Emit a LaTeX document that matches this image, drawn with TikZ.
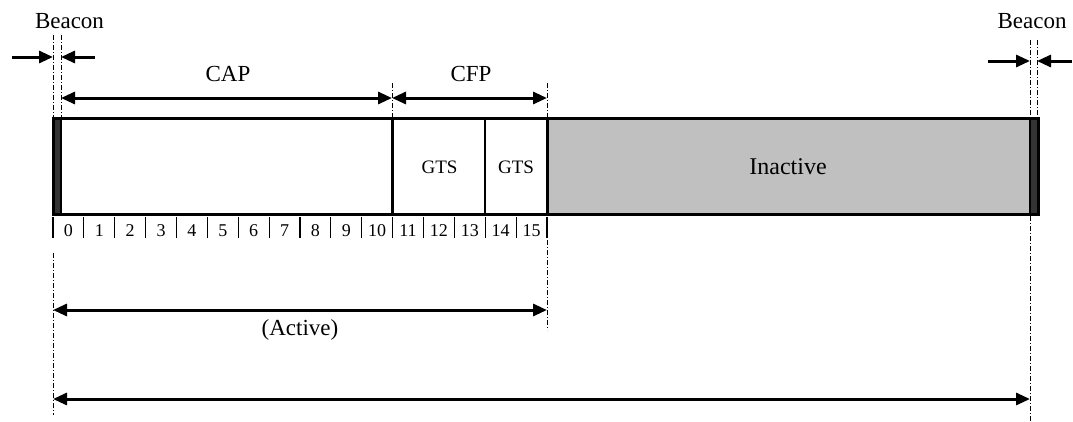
\documentclass[tikz,border=0pt]{standalone}
\usepackage{fontspec}
\setmainfont{Liberation Serif}
\usetikzlibrary{arrows.meta}
\definecolor{inact}{RGB}{192,192,192}
\definecolor{bar}{RGB}{51,51,51}
\tikzset{
  arr/.style={line width=3pt,-{Triangle[length=14pt,width=12pt]}},
  darr/.style={line width=3pt,{Triangle[length=14pt,width=12pt]}-{Triangle[length=14pt,width=12pt]}},
  guide/.style={line width=1pt,dash pattern=on 5pt off 2pt on 1pt off 2pt},
  lbl/.style={inner sep=0pt,anchor=base,font=\fontsize{23}{25}\selectfont},
  gts/.style={inner sep=0pt,anchor=base,font=\fontsize{19}{21}\selectfont},
  num/.style={inner sep=0pt,anchor=base,font=\fontsize{18}{20}\selectfont},
  tick/.style={line width=1.2pt}
}
\begin{document}
\begin{tikzpicture}[x=1pt,y=-1pt]
\useasboundingbox (0,0) rectangle (1073,421);
\fill[white] (0,0) rectangle (1073,421);

% superframe box
\fill[inact] (547,118) rectangle (1030,214);
\fill[bar] (53,118) rectangle (61,214);
\fill[bar] (1030,118) rectangle (1038,214);
\draw[line width=3pt] (53,118) rectangle (1038,214);
\draw[line width=3pt] (392,118) -- (392,214);
\draw[line width=2pt] (485,118) -- (485,214);
\draw[line width=3pt] (547,118) -- (547,214);
\draw[line width=2pt] (61,118) -- (61,214);
\draw[line width=2pt] (1030,118) -- (1030,214);

% labels in box
\node[gts] (g1) at (439.5,173) {GTS};
\node[gts] (g2) at (516,173) {GTS};
\node[lbl,font=\fontsize{24}{26}\selectfont] (inactive) at (788,174) {Inactive};

% slot ticks and numbers
\foreach \i in {0,...,16}{
  \draw[tick] ({53+\i*30.875},217) -- ({53+\i*30.875},238);
}
\foreach \i in {0,...,15}{
  \node[num] (n\i) at ({53+(\i+0.5)*30.875},236) {\i};
}

% guide lines
\draw[guide] (53,35) -- (53,118);
\draw[guide] (61,35) -- (61,118);
\draw[guide] (1030,40) -- (1030,118);
\draw[guide] (1037,40) -- (1037,118);
\draw[guide] (392,83) -- (392,118);
\draw[guide] (547,83) -- (547,118);
\draw[guide] (547,240) -- (547,330);
\draw[guide] (53,253) -- (53,415);
\draw[guide] (1030,216) -- (1030,421);

% beacon markers
\node[lbl] (beaconL) at (69.5,28) {Beacon};
\node[lbl] (beaconR) at (1032,28) {Beacon};
\coordinate (LBo1) at (12,57);
\coordinate (LBa) at (53,57);
\coordinate (LBo2) at (95,57);
\coordinate (LBb) at (61,57);
\draw[arr] (LBo1) -- (LBa);
\draw[arr] (LBo2) -- (LBb);
\coordinate (RBo1) at (988,61);
\coordinate (RBa) at (1030,61);
\coordinate (RBo2) at (1072,61);
\coordinate (RBb) at (1037,61);
\draw[arr] (RBo1) -- (RBa);
\draw[arr] (RBo2) -- (RBb);

% CAP / CFP
\coordinate (capL) at (61,98);
\coordinate (capR) at (392,98);
\coordinate (cfpL) at (392,98);
\coordinate (cfpR) at (547,98);
\draw[darr] (capL) -- (capR);
\draw[darr] (cfpL) -- (cfpR);
\node[lbl] (cap) at (228,81) {CAP};
\node[lbl] (cfp) at (471,81) {CFP};

% active and total
\coordinate (actL) at (53,310);
\coordinate (actR) at (547,310);
\draw[darr] (actL) -- (actR);
\node[lbl] (active) at (300,335) {(Active)};
\coordinate (totL) at (53,399);
\coordinate (totR) at (1030,399);
\draw[darr] (totL) -- (totR);
\end{tikzpicture}
\end{document}
